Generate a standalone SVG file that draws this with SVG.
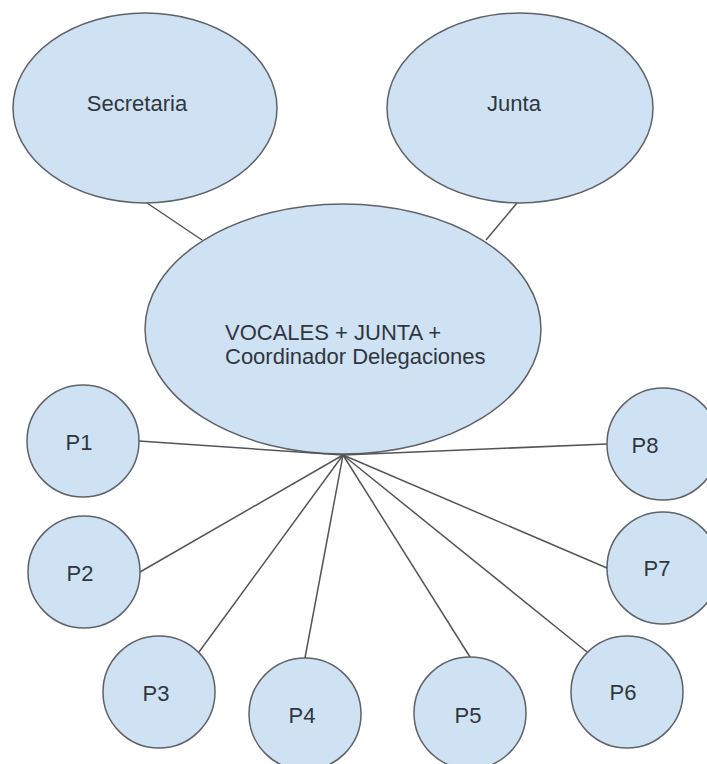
<svg xmlns="http://www.w3.org/2000/svg" width="707" height="764" viewBox="0 0 707 764">
<style>
.n{fill:#cfe2f3;stroke:#5f6368;stroke-width:1.5}
.t{font-family:"Liberation Sans",Arial,sans-serif;font-size:22px;fill:#2f3640}
.c{text-anchor:middle}
.e{stroke:#555;stroke-width:1.5;fill:none}
</style>
<rect width="707" height="764" fill="#fff"/>
<g id="secretaria"><ellipse class="n" cx="145" cy="108" rx="132" ry="95"/><text class="t c" x="137" y="111">Secretaria</text></g>
<g id="junta"><ellipse class="n" cx="520" cy="108" rx="133" ry="95"/><text class="t c" x="514" y="111">Junta</text></g>
<g id="vocales"><ellipse class="n" cx="343" cy="329" rx="198" ry="125"/><text class="t" x="225" y="340">VOCALES + JUNTA +</text><text class="t" x="225" y="364">Coordinador Delegaciones</text></g>
<g id="p1"><circle class="n" cx="83" cy="441" r="56"/><text class="t c" x="79" y="450">P1</text></g>
<g id="p2"><circle class="n" cx="84" cy="572" r="56"/><text class="t c" x="80" y="581">P2</text></g>
<g id="p3"><circle class="n" cx="159" cy="692" r="56"/><text class="t c" x="156" y="701">P3</text></g>
<g id="p4"><circle class="n" cx="305" cy="714" r="56"/><text class="t c" x="302" y="723">P4</text></g>
<g id="p5"><circle class="n" cx="470" cy="713" r="56"/><text class="t c" x="468" y="723">P5</text></g>
<g id="p6"><circle class="n" cx="627" cy="692" r="56"/><text class="t c" x="623" y="700">P6</text></g>
<g id="p7"><circle class="n" cx="663" cy="568" r="56"/><text class="t c" x="657" y="576">P7</text></g>
<g id="p8"><circle class="n" cx="663" cy="444" r="56"/><text class="t c" x="645" y="453">P8</text></g>
<g id="connectors">
<line class="e" x1="147" y1="203" x2="202" y2="240"/>
<line class="e" x1="517" y1="203" x2="486" y2="240"/>
<line class="e" x1="139" y1="441" x2="343" y2="455"/>
<line class="e" x1="140" y1="572" x2="343" y2="455"/>
<line class="e" x1="199" y1="652" x2="343" y2="455"/>
<line class="e" x1="305" y1="658" x2="343" y2="455"/>
<line class="e" x1="470" y1="657" x2="343" y2="455"/>
<line class="e" x1="587" y1="652" x2="343" y2="455"/>
<line class="e" x1="607" y1="568" x2="343" y2="455"/>
<line class="e" x1="607" y1="444" x2="343" y2="455"/>
</g>
</svg>
